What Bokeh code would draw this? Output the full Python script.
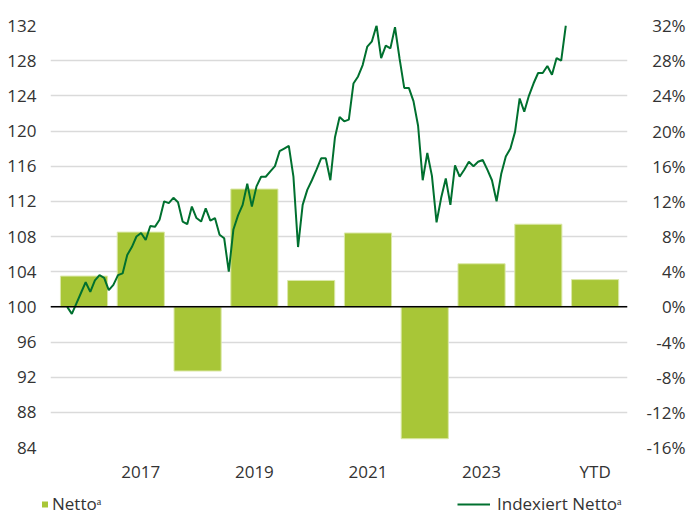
from bokeh.plotting import figure
from bokeh.layouts import column
from bokeh.models import (Range1d, LinearAxis, FixedTicker, Span, Legend, LegendItem,
                          ColumnDataSource)
from bokeh.embed import file_html
from bokeh.resources import INLINE

# ---------------- data ----------------
categories = ["2016", "2017", "2018", "2019", "2020", "2021", "2022", "2023", "2024", "YTD"]
netto_pct = [3.5, 8.5, -7.3, 13.4, 3.0, 8.4, -15.0, 4.9, 9.4, 3.1]

# monthly index (month 0 = start, base 100)
indexiert = [
    100.0, 99.2, 100.4, 101.6, 102.8, 101.7, 103.0, 103.6, 103.3, 101.9, 102.5, 103.6,
    103.8, 105.9, 106.8, 108.0, 108.4, 107.6, 109.2, 109.1, 109.9, 112.0, 111.8, 112.4,
    111.9, 109.7, 109.4, 111.4, 110.1, 109.7, 111.2, 109.8, 110.1, 108.2, 107.8, 104.0,
    108.8, 110.4, 111.6, 114.0, 111.4, 113.7, 114.8, 114.8, 115.4, 116.0, 117.7, 118.0,
    118.3, 114.8, 106.8, 111.6, 113.3, 114.4, 115.6, 116.9, 116.9, 114.4, 119.3, 121.6,
    121.1, 121.3, 125.4, 126.2, 127.5, 129.6, 130.2, 132.0, 128.3, 129.7, 129.4, 131.8,
    128.2, 124.9, 124.9, 123.4, 120.6, 114.4, 117.5, 114.9, 109.6, 112.4, 114.6, 111.6,
    116.1, 114.8, 115.6, 116.5, 116.0, 116.5, 116.7, 115.6, 114.4, 112.0, 115.1, 117.1,
    118.0, 119.9, 123.7, 122.2, 124.0, 125.4, 126.6, 126.6, 127.4, 126.4, 128.3, 128.0,
    132.0,
]
months = list(range(len(indexiert)))

left_ticks = [84, 88, 92, 96, 100, 104, 108, 112, 116, 120, 124, 128, 132]
right_ticks = [-16, -12, -8, -4, 0, 4, 8, 12, 16, 20, 24, 28, 32]
right_tick_labels = ["-16%", "-12%", "-8%", "-4%", "0%", "4%", "8%", "12%", "16%",
                     "20%", "24%", "28%", "32%"]
x_tick_pos = [1, 3, 5, 7, 9]
x_tick_labels = [categories[i] for i in x_tick_pos]
legend_labels = ["Netto\u1d43", "Indexiert Netto\u1d43"]

# ---------------- styling ----------------
BAR = "#a8c637"
LINE = "#00702f"
TXT = "#333333"
FONT = "Open Sans"
FS = "17px"

p = figure(width=700, height=487, output_backend="svg", toolbar_location=None,
           x_range=Range1d(-0.59, 9.57), y_range=Range1d(84, 132),
           min_border_left=50, min_border_right=73, min_border_top=25,
           min_border_bottom=40, outline_line_color=None, background_fill_color="white",
           border_fill_color="white")
p.frame_align = False
p.extra_y_ranges = {"pct": Range1d(-16, 32)}
p.extra_x_ranges = {"months": Range1d(-3.62, 121.36)}

# grid
p.xgrid.visible = False
p.ygrid.ticker = FixedTicker(ticks=left_ticks)
p.ygrid.grid_line_color = "#dadada"
p.ygrid.grid_line_width = 1.5

# bars
src = ColumnDataSource(dict(x=list(range(len(categories))), top=netto_pct))
p.vbar(x="x", top="top", bottom=0, width=0.83, source=src, y_range_name="pct",
       fill_color=BAR, line_color="#dbe8a8", line_width=1)

# zero line
p.add_layout(Span(location=100, dimension="width", line_color="black", line_width=1.5))

# line
p.line(x=months, y=indexiert, x_range_name="months", line_color=LINE, line_width=2)

# axes
def style_axis(ax):
    ax.axis_line_color = None
    ax.major_tick_line_color = None
    ax.minor_tick_line_color = None
    ax.major_label_text_font = FONT
    ax.major_label_text_font_size = FS
    ax.major_label_text_color = TXT

ya = p.yaxis[0]
ya.ticker = FixedTicker(ticks=left_ticks)
ya.major_label_standoff = 8
style_axis(ya)

def pad(lbl):
    s = lbl
    if not s.startswith("-"):
        s = "\u2004" + s
    nd = sum(c.isdigit() for c in s)
    return "\u2007" * (2 - nd) + s

ry = LinearAxis(y_range_name="pct", ticker=FixedTicker(ticks=right_ticks),
                major_label_overrides={t: pad(l) for t, l in zip(right_ticks, right_tick_labels)})
ry.major_label_standoff = 13
style_axis(ry)
p.add_layout(ry, "right")

xa = p.xaxis[0]
xa.ticker = FixedTicker(ticks=x_tick_pos)
xa.major_label_overrides = {t: l for t, l in zip(x_tick_pos, x_tick_labels)}
xa.major_label_standoff = 6
style_axis(xa)

# ---------------- legend strip ----------------
q = figure(width=700, height=27, output_backend="svg", toolbar_location=None,
           x_range=Range1d(0, 700), y_range=Range1d(-1000, -973),
           x_axis_location=None, y_axis_location=None,
           min_border_left=0, min_border_right=0, min_border_top=0, min_border_bottom=0,
           outline_line_color=None, background_fill_color="white", border_fill_color="white")
q.frame_align = False
q.grid.visible = False
# same data as above; it lies outside this strip's ranges, only the legend glyphs show
mk = q.scatter(x=list(range(len(categories))), y=netto_pct, marker="square",
               fill_color=BAR, line_color=None, size=6)
ln = q.line(x=months, y=indexiert, line_color=LINE, line_width=2)

def style_legend(lg):
    lg.border_line_color = None
    lg.background_fill_alpha = 0
    lg.label_text_font = FONT
    lg.label_text_font_size = FS
    lg.label_text_color = TXT
    lg.padding = 0
    lg.margin = 0
    lg.spacing = 0

lg1 = Legend(items=[LegendItem(label=legend_labels[0], renderers=[mk])],
             location=(37, -1), glyph_width=15, glyph_height=20, label_standoff=0)
style_legend(lg1)
lg2 = Legend(items=[LegendItem(label=legend_labels[1], renderers=[ln])],
             location=(457, -1), glyph_width=33, glyph_height=20, label_standoff=7)
style_legend(lg2)
q.add_layout(lg1)
q.add_layout(lg2)

open("out.html", "w").write(file_html(column(p, q), INLINE))
